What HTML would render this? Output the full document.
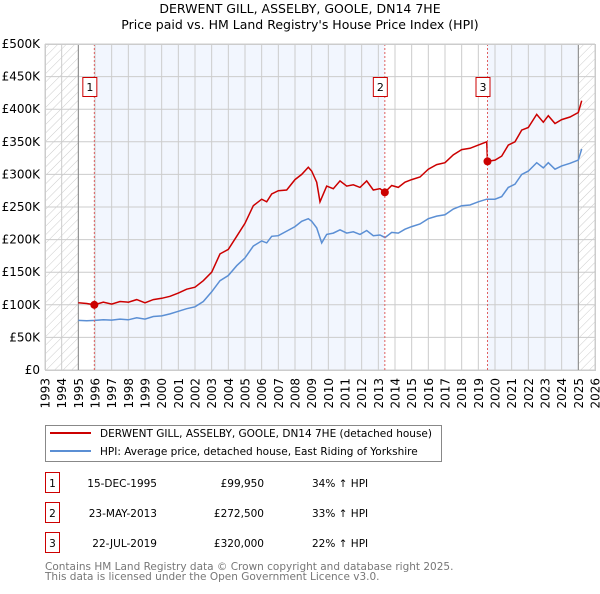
<!DOCTYPE html>
<html><head><meta charset="utf-8"><style>
body{margin:0;background:#fff;width:600px;height:590px;overflow:hidden;font-family:"DejaVu Sans","Liberation Sans",sans-serif;}
</style></head><body>
<svg id="chart" width="600" height="590" xmlns="http://www.w3.org/2000/svg" font-family="DejaVu Sans, Liberation Sans, sans-serif">
<defs><pattern id="hatch" width="6" height="6" patternUnits="userSpaceOnUse" patternTransform="rotate(45)"><line x1="0" y1="0" x2="0" y2="6" stroke="#ccc" stroke-width="1"/></pattern></defs>
<text x="300" y="13" text-anchor="middle" font-size="12.5">DERWENT GILL, ASSELBY, GOOLE, DN14 7HE</text>
<text x="300" y="29" text-anchor="middle" font-size="12.5">Price paid vs. HM Land Registry's House Price Index (HPI)</text>
<g id="bg"></g><g id="grid"></g><g id="lines"></g><g id="marks"></g><g id="axes"></g>
<g>
<rect x="45.5" y="425.5" width="396" height="36" fill="#fff" stroke="#888"/>
<line x1="50" y1="433" x2="91" y2="433" stroke="#cc0000" stroke-width="2"/>
<text x="100" y="437" font-size="10.5">DERWENT GILL, ASSELBY, GOOLE, DN14 7HE (detached house)</text>
<line x1="50" y1="451" x2="91" y2="451" stroke="#5b8fd4" stroke-width="2"/>
<text x="100" y="455" font-size="10.5">HPI: Average price, detached house, East Riding of Yorkshire</text>
</g>
<g id="table" font-size="10.5"></g>
<text x="45" y="570" font-size="10.5" fill="#777">Contains HM Land Registry data © Crown copyright and database right 2025.</text>
<text x="45" y="580" font-size="10.5" fill="#777">This data is licensed under the Open Government Licence v3.0.</text>
</svg>
<script>
const hpiYears=[1995.0,1995.5,1996,1996.5,1997,1997.5,1998,1998.5,1999,1999.5,2000,2000.5,2001,2001.5,2002,2002.5,2003,2003.5,2004,2004.5,2005,2005.5,2006,2006.3,2006.6,2007,2007.5,2008,2008.4,2008.8,2009,2009.3,2009.6,2009.9,2010.3,2010.7,2011.1,2011.5,2011.9,2012.3,2012.7,2013.1,2013.4,2013.8,2014.2,2014.6,2015,2015.5,2016,2016.5,2017,2017.5,2018,2018.5,2019,2019.5,2020,2020.4,2020.8,2021.2,2021.6,2022,2022.5,2022.9,2023.2,2023.6,2024,2024.5,2025,2025.2];
const hpiValues=[76,75.5,76,77,76.5,78,77,80,78,82,83,86,90,94,97,105,120,137,145,160,172,190,198,195,205,206,213,220,228,232,228,218,195,208,210,215,210,212,208,214,206,207,203,211,210,216,220,224,232,236,238,247,252,253,258,262,262,266,280,285,300,305,318,310,318,308,313,317,322,339];
const priceYears=[1995.0,1995.5,1995.96,1996.5,1997,1997.5,1998,1998.5,1999,1999.5,2000,2000.5,2001,2001.5,2002,2002.5,2003,2003.5,2004,2004.5,2005,2005.5,2006,2006.3,2006.6,2007,2007.5,2008,2008.4,2008.8,2009,2009.3,2009.5,2009.9,2010.3,2010.7,2011.1,2011.5,2011.9,2012.3,2012.7,2013.1,2013.39,2013.8,2014.2,2014.6,2015,2015.5,2016,2016.5,2017,2017.5,2018,2018.5,2019,2019.5,2019.55,2020,2020.4,2020.8,2021.2,2021.6,2022,2022.5,2022.9,2023.2,2023.6,2024,2024.5,2025,2025.2];
const priceValues=[103,102,100,104,101,105,104,108,103,108,110,113,118,124,127,137,150,178,185,205,225,252,262,258,270,275,276,292,300,311,305,288,258,282,278,290,282,284,280,290,276,278,272.5,283,280,288,292,296,308,315,318,330,338,340,345,350,320,322,328,345,350,368,372,392,380,390,378,384,388,395,413];
const saleYears=[1995.96,2013.39,2019.55];
const saleValues=[99.95,272.5,320];
const saleLabels=["1","2","3"];
const saleDates=["15-DEC-1995","23-MAY-2013","22-JUL-2019"];
const salePrices=["£99,950","£272,500","£320,000"];
const saleDiffs=["34% ↑ HPI","33% ↑ HPI","22% ↑ HPI"];
const yTicks=[0,50,100,150,200,250,300,350,400,450,500];
const yTickLabels=["£0","£50K","£100K","£150K","£200K","£250K","£300K","£350K","£400K","£450K","£500K"];
const xTicks=[1993,1994,1995,1996,1997,1998,1999,2000,2001,2002,2003,2004,2005,2006,2007,2008,2009,2010,2011,2012,2013,2014,2015,2016,2017,2018,2019,2020,2021,2022,2023,2024,2025,2026];

const NS="http://www.w3.org/2000/svg";
const X0=45,X1=595,Y0=370,Y1=44;
const xs=y=>X0+(y-1993)/(2026-1993)*(X1-X0);
const ys=v=>Y0-v/500*(Y0-Y1);
function mk(tag,attrs,parent){const e=document.createElementNS(NS,tag);for(const k in attrs)e.setAttribute(k,attrs[k]);parent.appendChild(e);return e;}
const bg=document.getElementById('bg'),grid=document.getElementById('grid'),lines=document.getElementById('lines'),marks=document.getElementById('marks'),axes=document.getElementById('axes'),table=document.getElementById('table');
// background
let r=mk('rect',{x:X0,y:Y1,width:X1-X0,height:Y0-Y1,fill:'#fff'},bg);


const bands=[[saleYears[0],saleYears[1]],[saleYears[2],2025]];
bands.forEach(b=>{const e=mk('rect',{x:xs(b[0]),y:Y1,width:xs(b[1])-xs(b[0]),height:Y0-Y1,fill:'#eef3fd',opacity:0.75},bg);

});
[[1993,1995],[2025,2026]].forEach(b=>{const e=mk('rect',{x:xs(b[0]),y:Y1,width:xs(b[1])-xs(b[0]),height:Y0-Y1,fill:'url(#hatch)'},bg);

});
// grid
yTicks.forEach((t,i)=>{const l=mk('line',{x1:X0,x2:X1,y1:ys(t),y2:ys(t),stroke:'#ccc','stroke-width':1},grid);


const tx=mk('text',{x:X0-5,y:ys(t)+4,'text-anchor':'end','font-size':12},axes);tx.textContent=yTickLabels[i];

});
xTicks.forEach(t=>{const l=mk('line',{x1:xs(t),x2:xs(t),y1:Y1,y2:Y0,stroke:'#ccc','stroke-width':1},grid);


const tx=mk('text',{x:0,y:0,'text-anchor':'end','font-size':12,transform:`translate(${xs(t)+4.5},${Y0+8}) rotate(-90)`},axes);tx.textContent=t;

});
[1995,2025].forEach(t=>{const l=mk('line',{x1:xs(t),x2:xs(t),y1:Y1,y2:Y0,stroke:'#888','stroke-width':1},grid);

});
// series
function path(xv,yv){return xv.map((x,i)=>(i?'L':'M')+xs(x).toFixed(1)+','+ys(yv[i]).toFixed(1)).join('');}
let p=mk('path',{d:path(hpiYears,hpiValues),fill:'none',stroke:'#5b8fd4','stroke-width':1.5},lines);


p=mk('path',{d:path(priceYears,priceValues),fill:'none',stroke:'#cc0000','stroke-width':1.5},lines);


saleYears.forEach((y,i)=>{const x=xs(y);
const l=mk('line',{x1:x,x2:x,y1:Y1,y2:Y0,stroke:'#e06060','stroke-width':1,'stroke-dasharray':'2,2'},marks);


const c=mk('circle',{cx:x,cy:ys(saleValues[i]),r:4,fill:'#cc0000'},marks);


const b=mk('rect',{x:x-11.5,y:77.5,width:14,height:19,fill:'#fff',stroke:'#cc0000'},marks);


const t=mk('text',{x:x-4.5,y:91,'text-anchor':'middle','font-size':11},marks);t.textContent=saleLabels[i];


// table row
const ry=[483,513,543][i];
const tb=mk('rect',{x:45.5,y:ry-10.5,width:14,height:20,fill:'#fff',stroke:'#cc0000'},table);


const tn=mk('text',{x:52.5,y:ry+4,'text-anchor':'middle'},table);tn.textContent=saleLabels[i];
const td=mk('text',{x:157,y:ry+4,'text-anchor':'end'},table);td.textContent=saleDates[i];


const tp=mk('text',{x:264,y:ry+4,'text-anchor':'end'},table);tp.textContent=salePrices[i];


const tf=mk('text',{x:312,y:ry+4},table);tf.textContent=saleDiffs[i];


});
const fr=mk('rect',{x:X0+0.5,y:Y1+0.5,width:X1-X0,height:Y0-Y1,fill:'none',stroke:'#ccc'},axes);


</script>
</body></html>
